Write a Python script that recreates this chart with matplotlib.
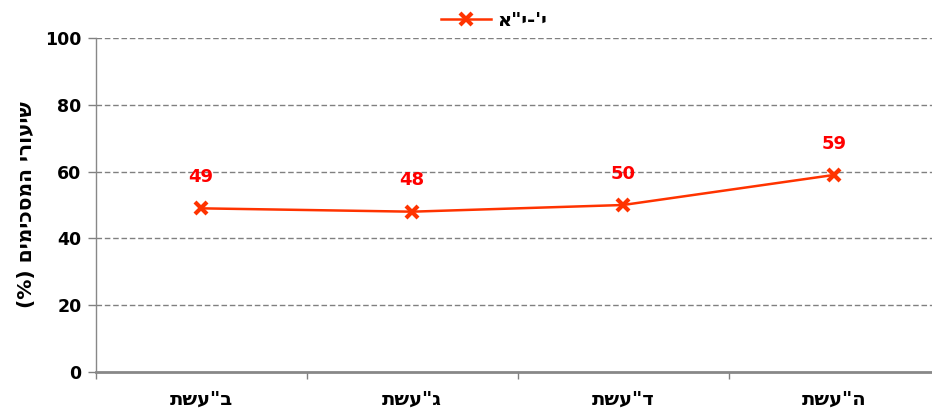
import matplotlib
matplotlib.use("Agg")
import matplotlib.pyplot as plt

categories = ['תשע"ב', 'תשע"ג', 'תשע"ד', 'תשע"ה']
values = [49, 48, 50, 59]
series_name = "י'-י\"א"
y_label = 'שיעורי המסכימים (%)'
y_ticks = [0, 20, 40, 60, 80, 100]

def vis(s):
    # visual (LTR) order for Hebrew text, mirroring brackets
    r = s[::-1]
    return r.translate(str.maketrans("()", ")("))

plt.rcParams['font.family'] = ['DejaVu Sans']
plt.rcParams['font.weight'] = 'bold'

fig = plt.figure(figsize=(9.32, 4.12), dpi=100)
ax = fig.add_axes([95.5/932, 40/412, (939.5-95.5)/932, (372-38)/412])

x = list(range(len(categories)))
line_color = '#FF3300'
ax.plot(x, values, color=line_color, lw=1.8, marker='x', markersize=9,
        markeredgewidth=3, label=vis(series_name), clip_on=False, zorder=3)
for xi, v in zip(x, values):
    ax.annotate(str(v), (xi, v), xytext=(0, 22.5), textcoords='offset points',
                ha='center', va='center', color='#FF0000', fontsize=13,
                fontweight='bold')

ax.set_xlim(-0.5, len(categories) - 0.5)
ax.set_ylim(0, 100)
ax.set_yticks(y_ticks)
ax.set_yticklabels([str(t) for t in y_ticks], fontsize=12.5, fontweight='bold')
ax.set_xticks(x)
# x labels appear in stored (left-to-right) order in the original chart
ax.set_xticklabels(categories, fontsize=14, fontweight='bold')
ax.set_xticks([i - 0.5 for i in range(len(categories) + 1)], minor=True)
ax.tick_params(axis='x', which='major', length=0, pad=13)
ax.tick_params(axis='x', which='minor', length=5, color='#808080', width=1)
ax.tick_params(axis='y', length=6, color='#808080', width=1, pad=4)

for yv in y_ticks[1:]:
    ax.axhline(yv, color='#808080', lw=1, ls=(0, (4, 2)), zorder=1)

for s in ['top', 'right']:
    ax.spines[s].set_visible(False)
ax.spines['left'].set_color('#888888')
ax.spines['left'].set_linewidth(1)
ax.spines['bottom'].set_color('#888888')
ax.spines['bottom'].set_linewidth(2)

ax.set_ylabel(vis(y_label), fontsize=14.5, fontweight='bold', labelpad=7)

leg = ax.legend(loc='center', bbox_to_anchor=(494/932, (412-20)/412),
                bbox_transform=fig.transFigure, frameon=False, fontsize=14,
                handlelength=2.6, handletextpad=0.3, borderpad=0)
for t in leg.get_texts():
    t.set_fontweight('bold')

fig.savefig('out.png', dpi=100)
